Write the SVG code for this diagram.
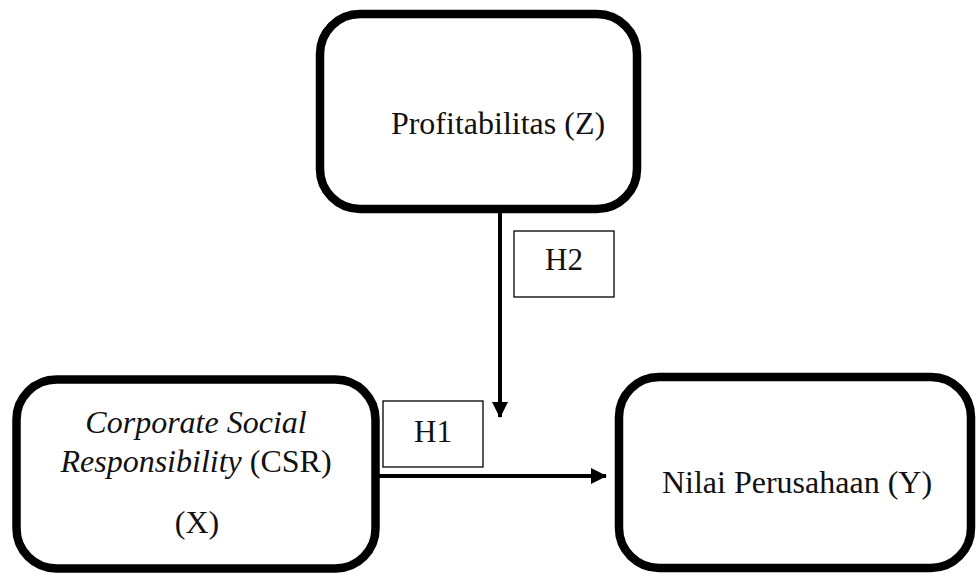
<svg xmlns="http://www.w3.org/2000/svg" width="976" height="574" viewBox="0 0 976 574">
<style>
.node{fill:#fff;stroke:#000;stroke-width:8.5}
.lbl{fill:#fff;stroke:#000;stroke-width:1.3}
text{font-family:"Liberation Serif","Times New Roman",serif;font-size:32px;fill:#111;text-anchor:middle}
.h{font-size:31px}
.conn{stroke:#000;stroke-width:4;fill:none}
</style>
<defs>
<marker id="arr" viewBox="0 0 16 16" refX="15" refY="8" markerWidth="16" markerHeight="16" markerUnits="userSpaceOnUse" orient="auto">
<path d="M0,0 L16,8 L0,16 z" fill="#000"/>
</marker>
</defs>
<rect width="976" height="574" fill="#fff"/>
<g id="connectors">
<line class="conn" x1="500" y1="213" x2="500" y2="417" marker-end="url(#arr)"/>
<line class="conn" x1="379" y1="476" x2="606" y2="476" marker-end="url(#arr)"/>
</g>
<g id="node-z">
<rect class="node" x="320" y="14" width="317" height="195" rx="40" ry="40"/>
<text x="498" y="134">Profitabilitas (Z)</text>
</g>
<g id="node-x">
<rect class="node" x="16.5" y="379.5" width="359" height="189" rx="40" ry="40"/>
<text x="196" y="433" font-style="italic">Corporate Social</text>
<text x="196" y="472"><tspan font-style="italic">Responsibility</tspan> (CSR)</text>
<text x="197" y="533">(X)</text>
</g>
<g id="node-y">
<rect class="node" x="619" y="377" width="352" height="191" rx="40" ry="40"/>
<text x="797" y="493">Nilai Perusahaan (Y)</text>
</g>
<g id="label-h2">
<rect class="lbl" x="514" y="231" width="100" height="66"/>
<text class="h" x="564" y="270">H2</text>
</g>
<g id="label-h1">
<rect class="lbl" x="383" y="401" width="100" height="66"/>
<text class="h" x="433" y="442">H1</text>
</g>
</svg>
